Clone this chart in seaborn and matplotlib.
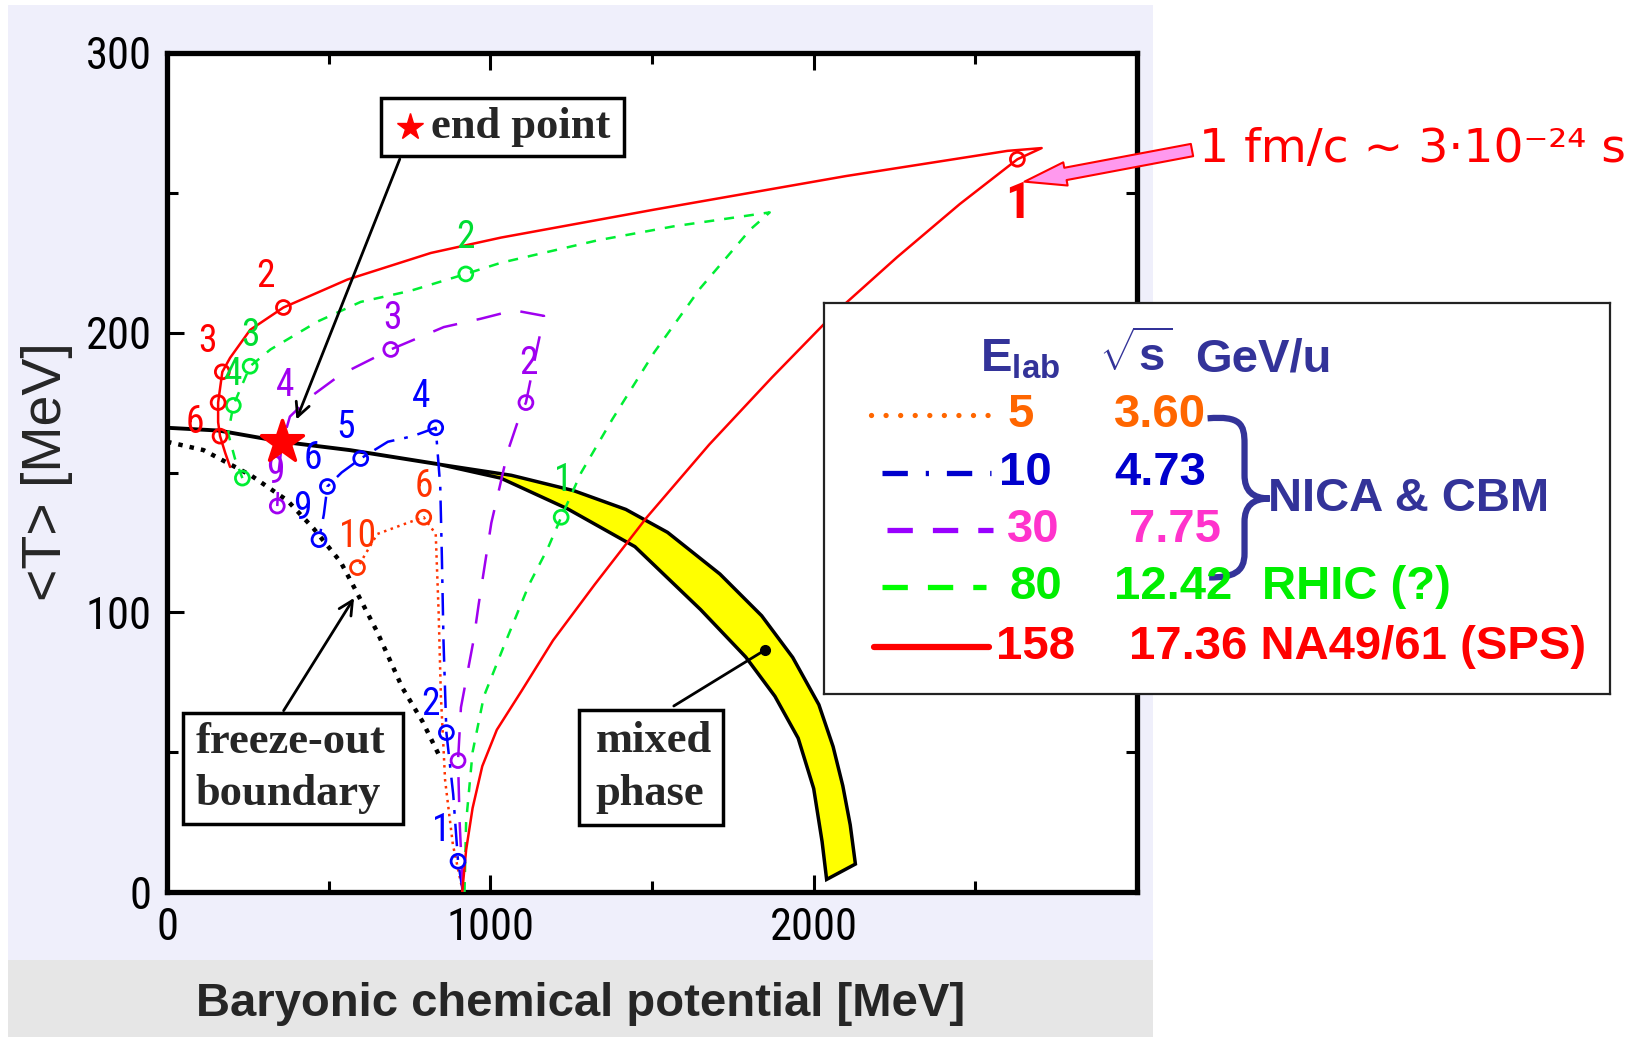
import matplotlib
matplotlib.use('Agg')
import matplotlib.pyplot as plt
import seaborn as sns
from matplotlib import font_manager as fm
from matplotlib.patches import Rectangle, PathPatch
from matplotlib.path import Path

sns.set_style('ticks')

names = {f.name for f in fm.fontManager.ttflist}
def pick(*cands):
    for c in cands:
        if c in names:
            return c
    return 'DejaVu Sans'

SANS = pick('Liberation Sans', 'Arial', 'DejaVu Sans')
NARROW = pick('Liberation Sans Narrow', 'Roboto Condensed', 'Liberation Sans')
SERIF = pick('Liberation Serif', 'DejaVu Serif')
plt.rcParams['font.family'] = [SANS, 'DejaVu Sans']
plt.rcParams['mathtext.fontset'] = 'custom'
plt.rcParams['mathtext.rm'] = SANS
plt.rcParams['mathtext.bf'] = SANS + ':bold'

# ---- data (mu_B in MeV, <T> in MeV) ----
# phase boundary / upper edge of the mixed phase and its lower edge
band_top_mu = [0, 160, 356, 566, 838, 1065, 1258, 1419, 1548, 1710, 1839, 1935, 2016, 2060, 2090, 2113, 2129]
band_top_T = [166, 165, 161, 158, 153, 149, 143.5, 136.8, 128.6, 113.7, 98.8, 83.9, 67, 52, 38, 24, 10]
band_bot_mu = [838, 1032, 1239, 1447, 1650, 1790, 1880, 1952, 2000, 2026, 2040]
band_bot_T = [153, 148, 137, 123.5, 101, 84, 70, 55, 37, 18, 4.5]

# freeze-out boundary
fo_mu = [0, 113, 259, 372, 453, 537, 583, 650, 728, 790, 841]
fo_T = [161, 158, 149, 140, 130, 118, 108, 93, 73, 61, 49]

# critical end point
end_mu, end_T = [356], [161]

# trajectories: E_lab = 158, 80, 30, 10, 5 GeV/u
red_mu = [913, 925, 945, 975, 1020, 1097, 1194, 1323, 1484, 1677, 1871, 2065, 2258, 2452, 2630, 2705,
          2599, 2100, 1507, 1033, 816, 558, 360, 257, 195, 171, 158, 158, 164, 180, 195]
red_T = [0, 15, 30, 45, 58, 72, 90, 110, 134, 160, 184, 207, 227, 246, 262, 266,
         265, 256, 244, 234, 228.5, 219, 209, 201, 191, 186, 175, 168, 163, 157, 152]
red_pts_mu = [2630, 360, 171, 158, 164]
red_pts_T = [262, 209, 186, 175, 163]
red_lab = ['1', '2', '3', '6']
red_lab_mu = [2630, 304, 124, 87]
red_lab_T = [246, 220, 197, 168]

green_mu = [920, 925, 945, 980, 1042, 1120, 1178, 1219, 1281, 1377, 1507, 1650, 1805, 1864,
            1566, 1331, 1033, 924, 754, 599, 466, 320, 257, 205, 189, 210, 233]
green_T = [0, 25, 50, 70, 88, 110, 123, 134, 150, 169, 193, 216, 237, 243,
           238, 233, 225, 221, 215, 211, 204, 194, 188, 174, 164, 155, 148]
green_pts_mu = [1219, 924, 257, 205, 233]
green_pts_T = [134, 221, 188, 174, 148]
green_lab = ['1', '2', '3', '4']
green_lab_mu = [1225, 924, 257, 205]
green_lab_T = [147, 234, 199, 185]

purple_mu = [915, 905, 900, 909, 948, 964, 1003, 1055, 1090, 1110, 1140, 1166, 1073, 971,
             856, 692, 537, 443, 380, 355, 345, 341]
purple_T = [0, 25, 47, 66, 90, 103, 132, 158, 170, 175, 192, 206, 208, 205,
            202, 194, 185, 177, 170, 160, 150, 138]
purple_pts_mu = [900, 1110, 692, 341]
purple_pts_T = [47, 175, 194, 138]
purple_lab = ['2', '3', '4', '9']
purple_lab_mu = [1117, 698, 366, 335]
purple_lab_T = [189, 205, 181, 150]

blue_mu = [915, 900, 885, 864, 855, 850, 845, 831, 760, 683, 599, 540, 496, 485, 470]
blue_T = [0, 11, 35, 57, 90, 120, 145, 166, 163, 161, 155, 150, 145, 135, 126]
blue_pts_mu = [900, 864, 831, 599, 496, 470]
blue_pts_T = [11, 57, 166, 155, 145, 126]
blue_lab = ['1', '2', '4', '5', '6', '9']
blue_lab_mu = [848, 816, 785, 552, 450, 419]
blue_lab_T = [22, 67, 177, 166, 155, 137]

orange_mu = [915, 884, 860, 847, 840, 831, 794, 744, 650, 589]
orange_T = [0, 17, 40, 70, 100, 128, 134, 132, 128, 116]
orange_pts_mu = [794, 589]
orange_pts_T = [134, 116]
orange_lab = ['6', '10']
orange_lab_mu = [794, 589]
orange_lab_T = [145, 127]

# legend table
leg_elab = ['5', '10', '30', '80', '158']
leg_sqrts = ['3.60', '4.73', '7.75', '12.42', '17.36 NA49/61 (SPS)']
leg_line_color = ['#FF6600', '#0000CC', '#9900FF', '#00FF00', '#FF0000']
leg_text_color = ['#FF6600', '#0000CC', '#FF33CC', '#00EE00', '#FF0000']

# ---- figure ----
fig = plt.figure(figsize=(16.36, 10.37), dpi=100)
fig.patch.set_facecolor('white')
fig.add_artist(Rectangle((0.0049, 0.0743), 0.6999, 0.9207, transform=fig.transFigure,
                         fc='#EFEFFB', ec='none', zorder=-10))
fig.add_artist(Rectangle((0.0049, 0.0), 0.6999, 0.0743, transform=fig.transFigure,
                         fc='#E6E6E6', ec='none', zorder=-10))

ax = fig.add_axes([0.1021, 0.1398, 0.5929, 0.8091])
ax.set_facecolor('white')
ax.set_xlim(0, 3000)
ax.set_ylim(0, 300)

# mixed phase band + phase boundary
poly_mu = band_top_mu[4:] + band_bot_mu[::-1]
poly_T = band_top_T[4:] + band_bot_T[::-1]
ax.fill(poly_mu, poly_T, fc='#FFFF00', ec='black', lw=2.5, zorder=2)
sns.lineplot(x=band_top_mu[:5], y=band_top_T[:5], sort=False, estimator=None,
             color='black', lw=2.8, ax=ax, zorder=3)

# freeze-out boundary
sns.lineplot(x=fo_mu, y=fo_T, sort=False, estimator=None, color='black', lw=3.2,
             linestyle=(0, (1, 1.6)), ax=ax, zorder=3)

trajs = [
    (orange_mu, orange_T, orange_pts_mu, orange_pts_T, orange_lab, orange_lab_mu, orange_lab_T,
     '#FF3300', (0, (1, 1.8)), '#FF3300'),
    (blue_mu, blue_T, blue_pts_mu, blue_pts_T, blue_lab, blue_lab_mu, blue_lab_T,
     '#0000FF', (0, (9, 4, 1.5, 4)), '#0000FF'),
    (purple_mu, purple_T, purple_pts_mu, purple_pts_T, purple_lab, purple_lab_mu, purple_lab_T,
     '#A000F0', (0, (10, 8)), '#A000F0'),
    (green_mu, green_T, green_pts_mu, green_pts_T, green_lab, green_lab_mu, green_lab_T,
     '#00EE33', (0, (4, 4)), '#00DD33'),
    (red_mu, red_T, red_pts_mu, red_pts_T, red_lab, red_lab_mu, red_lab_T,
     '#FF0000', '-', '#FF0000'),
]
for mu, T, pmu, pT, lab, lmu, lT, col, ls, tcol in trajs:
    sns.lineplot(x=mu, y=T, sort=False, estimator=None, color=col, lw=1.8,
                 linestyle=ls, ax=ax, zorder=4)
    sns.scatterplot(x=pmu, y=pT, marker='o', s=100, facecolor='none', edgecolor=col,
                    linewidth=2, ax=ax, zorder=5)
    for s, x, y in zip(lab, lmu, lT):
        big = (s == '1' and col == '#FF0000')
        ax.text(x, y, s, color=tcol, fontsize=36 if big else 27, family=NARROW,
                ha='center', va='center', zorder=6,
                fontweight='bold' if big else 'normal')

# end point star
sns.scatterplot(x=end_mu, y=end_T, marker='*', s=1000, color='#FF0000', edgecolor='#FF0000',
                ax=ax, zorder=7)

# axes styling
ax.set_xticks([0, 1000, 2000, 3000])
ax.set_xticklabels(['0', '1000', '2000', ''], family=NARROW, fontsize=32)
ax.set_yticks([0, 100, 200, 300])
ax.set_yticklabels(['0', '100', '200', '300'], family=NARROW, fontsize=32)
ax.set_xticks([500, 1500, 2500], minor=True)
ax.set_yticks([50, 150, 250], minor=True)
ax.tick_params(which='both', direction='in', top=True, right=True, width=2.2, colors='black')
ax.tick_params(which='major', length=12, pad=11)
ax.tick_params(which='minor', length=8)
for sp in ax.spines.values():
    sp.set_linewidth(3.8)
    sp.set_color('black')
ax.set_xlabel('')
ax.set_ylabel('')

fig.text(581 / 1636, 1 - 1004 / 1037, 'Baryonic chemical potential [MeV]',
         ha='center', va='center', fontsize=34, fontweight='bold')
fig.text(47 / 1636, 1 - 472 / 1037, '<T> [MeV]', rotation=90,
         ha='center', va='center', fontsize=40)

# annotation boxes
ax.add_patch(Rectangle((663, 263), 750, 21, fc='white', ec='black', lw=2.5, zorder=8))
ax.plot([751], [273.5], marker='*', ms=20, color='#FF0000', zorder=9)
ax.text(816, 273.5, 'end point', family=SERIF, fontweight='bold', fontsize=32,
        ha='left', va='center', zorder=9)
ax.annotate('', xy=(397, 168), xytext=(723, 263),
            arrowprops=dict(arrowstyle='->', color='black', lw=2, mutation_scale=25), zorder=8)

ax.add_patch(Rectangle((50, 24.3), 679, 39.7, fc='white', ec='black', lw=2.5, zorder=8))
ax.text(87, 53.5, 'freeze-out', family=SERIF, fontweight='bold', fontsize=32,
        ha='left', va='center', zorder=9)
ax.text(87, 35, 'boundary', family=SERIF, fontweight='bold', fontsize=32,
        ha='left', va='center', zorder=9)
ax.annotate('', xy=(583, 106), xytext=(356, 64),
            arrowprops=dict(arrowstyle='->', color='black', lw=2, mutation_scale=25), zorder=8)

ax.add_patch(Rectangle((1275, 24), 446, 41, fc='white', ec='black', lw=2.5, zorder=8))
ax.text(1325, 54, 'mixed', family=SERIF, fontweight='bold', fontsize=32,
        ha='left', va='center', zorder=9)
ax.text(1325, 35, 'phase', family=SERIF, fontweight='bold', fontsize=32,
        ha='left', va='center', zorder=9)
ax.annotate('', xy=(1849, 86.5), xytext=(1560, 66),
            arrowprops=dict(arrowstyle='-', color='black', lw=2), zorder=8)
ax.plot([1849], [86.5], marker='o', ms=7, color='black', zorder=9)

# time scale note with pink arrow
fig.text(0.733, 0.856, '1 fm/c ~ 3·10\u207b\u00b2\u2074 s', color='#FF0000',
         fontsize=34, family='DejaVu Sans', ha='left', va='center')
ax.annotate('', xy=(2652, 254), xycoords='data',
            xytext=(0.7286, 0.8553), textcoords='figure fraction',
            arrowprops=dict(arrowstyle='simple,head_length=3.0,head_width=1.7,tail_width=0.9',
                            fc='#FF99EE', ec='#FF0000', lw=1.5, mutation_scale=10,
                            shrinkA=0, shrinkB=0),
            annotation_clip=False, zorder=10)

# legend table
lax = fig.add_axes([0.5037, 0.3308, 0.4804, 0.377], zorder=5)
lax.set_xlim(0, 1)
lax.set_ylim(0, 1)
lax.set_xticks([])
lax.set_yticks([])
lax.set_facecolor('white')
for sp in lax.spines.values():
    sp.set_linewidth(1.6)
    sp.set_color('#222222')

NAVY = '#333399'
lax.text(0.199, 0.855, r'$\mathbf{E}_{\mathbf{lab}}$', color=NAVY, fontsize=34,
         ha='left', va='center')
lax.text(0.350, 0.860, r'$\sqrt{\mathbf{s}}$', color=NAVY, fontsize=34, ha='left', va='center')
lax.text(0.472, 0.855, 'GeV/u', color=NAVY, fontsize=34, fontweight='bold',
         ha='left', va='center')

row_y = [0.713, 0.565, 0.419, 0.274, 0.120]
line_x0 = [0.060, 0.074, 0.080, 0.074, 0.064]
line_x1 = [0.212, 0.212, 0.215, 0.206, 0.210]
line_styles = [(0, (0.01, 2.75)), (0, (4.8, 3.4, 0.6, 3.4)), (0, (4.8, 3.8)), (0, (4.8, 3.8)), '-']
elab_x = [0.233, 0.222, 0.233, 0.236, 0.219]
sqrts_x = [0.369, 0.369, 0.388, 0.369, 0.388]
for i in range(5):
    ln, = lax.plot([line_x0[i], line_x1[i]], [row_y[i], row_y[i]], color=leg_line_color[i],
                   lw=3.8 if i < 4 else 4.5, linestyle=line_styles[i])
    if i == 0:
        ln.set_dash_capstyle('round')
    lax.text(elab_x[i], row_y[i], leg_elab[i], color=leg_text_color[i], fontsize=34,
             fontweight='bold', ha='left', va='center')
    lax.text(sqrts_x[i], row_y[i], leg_sqrts[i], color=leg_text_color[i], fontsize=34,
             fontweight='bold', ha='left', va='center')
lax.text(0.557, row_y[3], 'RHIC (?)', color=leg_text_color[3], fontsize=34,
         fontweight='bold', ha='left', va='center')
lax.text(0.565, 0.499, 'NICA & CBM', color=NAVY, fontsize=34, fontweight='bold',
         ha='left', va='center')

brace = Path([(0.488, 0.705), (0.530, 0.712), (0.535, 0.690), (0.535, 0.640),
              (0.535, 0.560),
              (0.535, 0.520), (0.545, 0.500), (0.567, 0.500),
              (0.545, 0.500), (0.535, 0.480), (0.535, 0.440),
              (0.535, 0.360),
              (0.535, 0.310), (0.520, 0.298), (0.490, 0.298)],
             [Path.MOVETO, Path.CURVE4, Path.CURVE4, Path.CURVE4,
              Path.LINETO,
              Path.CURVE4, Path.CURVE4, Path.CURVE4,
              Path.CURVE4, Path.CURVE4, Path.CURVE4,
              Path.LINETO,
              Path.CURVE4, Path.CURVE4, Path.CURVE4])
lax.add_patch(PathPatch(brace, fc='none', ec=NAVY, lw=4.5, capstyle='butt'))

fig.savefig('out.png', dpi=100)
